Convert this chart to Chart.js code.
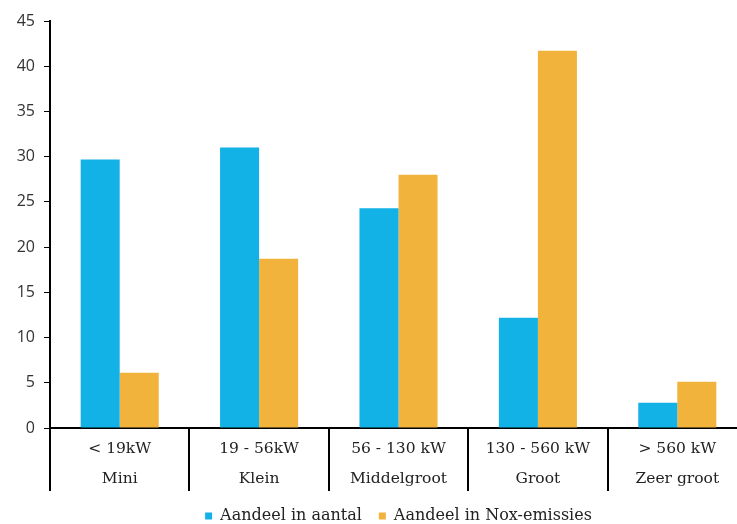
<!DOCTYPE html>
<html>
<head>
<meta charset="utf-8">
<script src="https://cdn.jsdelivr.net/npm/chart.js@4"></script>
<style>
  html, body { margin: 0; padding: 0; background: #fff; overflow: hidden; }
  #wrap { width: 750px; height: 534px; }
</style>
</head>
<body>
<div id="wrap"><canvas id="myChart"></canvas></div>
<script>
const categories = [
  ["< 19kW", "Mini"],
  ["19 - 56kW", "Klein"],
  ["56 - 130 kW", "Middelgroot"],
  ["130 - 560 kW", "Groot"],
  ["> 560 kW", "Zeer groot"],
];
const aandeelAantal = [29.7, 31.0, 24.3, 12.2, 2.8];
const aandeelNox = [6.1, 18.7, 28.0, 41.7, 5.1];
const seriesNames = ["Aandeel in aantal", "Aandeel in Nox-emissies"];

const ctx = document.getElementById("myChart").getContext("2d");
const myChart = new Chart(ctx, {
  type: "bar",
  data: {
    labels: categories,
    datasets: [
      {
        label: seriesNames[0],
        data: aandeelAantal,
        backgroundColor: "#12b1e6",
      },
      {
        label: seriesNames[1],
        data: aandeelNox,
        backgroundColor: "#f2b33d",
      },
    ],
  },
  options: {
    responsive: true,
    maintainAspectRatio: false,
    animation: false,
    layout: { padding: { top: 21, right: 3, bottom: 0, left: 0 } },
    datasets: {
      bar: { barPercentage: 1, categoryPercentage: 0.56 },
    },
    plugins: {
      tooltip: { enabled: false },
      legend: {
        position: "bottom",
        fullSize: false,
        labels: {
          boxWidth: 7,
          boxHeight: 7,
          padding: 17,
          color: "#222",
          font: { family: "DejaVu Serif", size: 16 },
        },
      },
    },
    scales: {
      x: {
        border: { color: "#000", width: 2 },
        grid: {
          offset: true,
          drawOnChartArea: false,
          tickLength: 63,
          color: "#000",
          lineWidth: 2,
        },
        ticks: {
          padding: -57,
          color: "#222",
          font: { family: "DejaVu Serif", size: 15.5, lineHeight: 1.95 },
          maxRotation: 0,
        },
        afterFit: (scale) => {
          scale.height = 63;
        },
      },
      y: {
        min: 0,
        max: 45,
        border: { color: "#000", width: 2 },
        grid: {
          drawOnChartArea: false,
          tickLength: 6,
          color: "#000",
          lineWidth: 1,
        },
        ticks: {
          stepSize: 5,
          padding: 9,
          color: "#333",
          font: { family: "Open Sans", size: 16 },
        },
        afterFit: (scale) => {
          scale.width = 50;
        },
      },
    },
  },
});
</script>
</body>
</html>
